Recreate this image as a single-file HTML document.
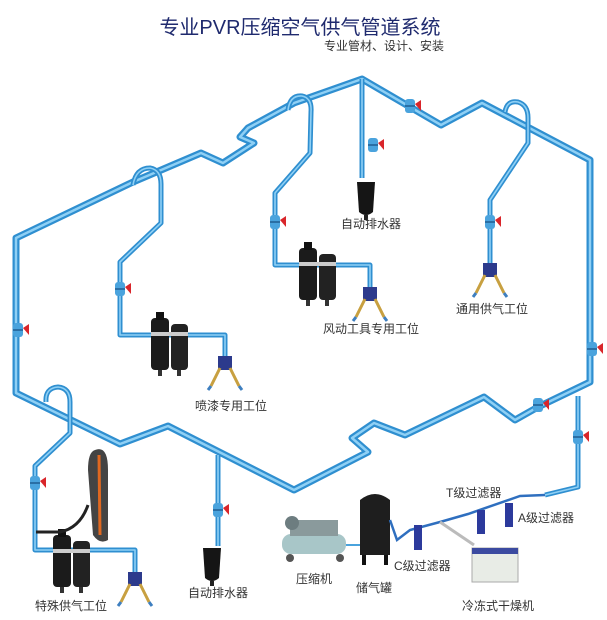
<!DOCTYPE html>
<html><head><meta charset="utf-8"><style>
html,body{margin:0;padding:0;background:#fff;}
svg{display:block;}
text{font-family:"Liberation Sans","Noto Sans CJK SC",sans-serif;fill:#333;font-size:12px;}
.p1{fill:none;stroke:#2f8fd0;stroke-width:7;stroke-linejoin:round;stroke-linecap:round;}
.p2{fill:none;stroke:#8fd0f5;stroke-width:2.5;stroke-linejoin:round;stroke-linecap:round;}
.s1{fill:none;stroke:#2f8fd0;stroke-width:5;stroke-linejoin:round;}
.s2{fill:none;stroke:#8fd0f5;stroke-width:1.6;stroke-linejoin:round;}
</style></head><body>
<svg width="607" height="620" viewBox="0 0 607 620" xmlns="http://www.w3.org/2000/svg">
<defs>
<g id="valve"><rect x="-5" y="-7" width="10" height="14" rx="3" fill="#4aa3dd"/><rect x="-5" y="-1" width="10" height="2" fill="#2a6fa5"/><path d="M5 -2 L11 -6 L11 5 Z" fill="#d9252a"/></g>
<g id="frl"><rect x="-19" y="0" width="18" height="52" rx="4" fill="#1b1b1b"/><rect x="1" y="6" width="17" height="46" rx="4" fill="#222"/><rect x="-19" y="14" width="37" height="4" fill="#ccc"/><rect x="-14" y="-6" width="8" height="8" fill="#111"/><rect x="-12" y="52" width="4" height="6" fill="#333"/><rect x="7" y="52" width="4" height="6" fill="#333"/></g>
<g id="stn"><rect x="-7" y="0" width="14" height="14" fill="#2c3a8c"/><path d="M-5 12 L-14 30 M5 12 L14 30" stroke="#c8a040" stroke-width="3"/><path d="M-14 30 L-17 34 M14 30 L17 34" stroke="#3e7fc0" stroke-width="3"/></g>
<g id="drain"><path d="M-9 0 L9 0 L7 30 Q0 36 -7 30 Z" fill="#151515"/><rect x="-2" y="33" width="4" height="5" fill="#222"/></g>
<path id="main" fill="none" d="M16 238 L133 182 L201 153 L223 163 L254 143 L240 137 L248 128 L294 103 L362 79 L441 125 L482 103 L590 160 L590 382 L538 407 L515 420 L484 397 L405 435 L374 423 L352 438 L368 452 L294 490 L168 426 L120 444 L16 393 Z"/>
<path id="b1" fill="none" d="M362 79 L362 178"/>
<path id="b2" fill="none" d="M288 110 Q290 95 302 96 Q312 98 311 112 L310 153 L275 193 L275 265 L370 265 L370 290"/>
<path id="b3" fill="none" d="M133 185 Q136 168 150 168 Q161 170 161 184 L161 223 L120 262 L120 335 L225 335 L225 357"/>
<path id="b4" fill="none" d="M505 112 Q507 100 518 102 Q528 105 528 118 L528 143 L490 200 L490 265"/>
<path id="b5" fill="none" d="M46 402 Q45 388 58 387 Q70 388 70 402 L70 433 L35 466 L35 550 L135 550 L135 572"/>
<path id="b6" fill="none" d="M218 455 L218 546"/>
<path id="b7" fill="none" d="M578 396 L578 487 L545 495"/>
</defs>
<text x="300" y="34" text-anchor="middle" style="font-size:20px;fill:#1f2a6e">专业PVR压缩空气供气管道系统</text>
<text x="444" y="50" text-anchor="end" style="font-size:12px;fill:#333">专业管材、设计、安装</text>

<use href="#main" class="p1"/><use href="#main" class="p2"/>
<g class="s1"><use href="#b1"/><use href="#b2"/><use href="#b3"/><use href="#b4"/><use href="#b5"/><use href="#b6"/><use href="#b7"/></g>
<g class="s2"><use href="#b1"/><use href="#b2"/><use href="#b3"/><use href="#b4"/><use href="#b5"/><use href="#b6"/><use href="#b7"/></g>

<use href="#valve" x="373" y="145"/>
<use href="#valve" x="275" y="222"/>
<use href="#valve" x="120" y="289"/>
<use href="#valve" x="490" y="222"/>
<use href="#valve" x="18" y="330"/>
<use href="#valve" x="410" y="106"/>
<use href="#valve" x="592" y="349"/>
<use href="#valve" x="538" y="405"/>
<use href="#valve" x="578" y="437"/>
<use href="#valve" x="35" y="483"/>
<use href="#valve" x="218" y="510"/>

<use href="#drain" x="366" y="182"/>
<use href="#drain" x="212" y="548"/>
<use href="#frl" x="318" y="248"/>
<use href="#frl" x="170" y="318"/>
<use href="#frl" x="72" y="535"/>
<use href="#stn" x="370" y="287"/>
<use href="#stn" x="225" y="356"/>
<use href="#stn" x="490" y="263"/>
<use href="#stn" x="135" y="572"/>

<path d="M95 450 Q108 445 108 470 L108 540 Q100 545 93 535 L88 470 Q88 452 95 450 Z" fill="#444"/>
<path d="M99 455 L100 535" stroke="#e06820" stroke-width="3"/>
<path d="M36 532 L60 532 Q80 528 88 505" stroke="#222" stroke-width="3" fill="none"/>

<rect x="282" y="534" width="64" height="20" rx="9" fill="#a8c6c8"/>
<rect x="290" y="520" width="48" height="16" fill="#8a9a9c"/>
<circle cx="292" cy="523" r="7" fill="#6d7d80"/>
<circle cx="290" cy="558" r="4" fill="#555"/><circle cx="340" cy="558" r="4" fill="#555"/>
<path d="M346 545 L362 545" stroke="#4aa3dd" stroke-width="2"/>
<path d="M360 500 Q375 488 390 500 L390 555 L360 555 Z" fill="#1e1e1e"/>
<rect x="362" y="555" width="4" height="10" fill="#111"/><rect x="384" y="555" width="4" height="10" fill="#111"/>
<path d="M390 520 L397 540 L410 530 L440 522 L468 514 L520 496 L545 495" stroke="#2f6fbf" stroke-width="2.5" fill="none"/>
<path d="M440 522 L474 545" stroke="#bbb" stroke-width="3"/>
<rect x="414" y="525" width="8" height="25" fill="#2c3a9c"/>
<rect x="477" y="510" width="8" height="24" fill="#2c3a9c"/>
<rect x="505" y="503" width="8" height="24" fill="#2c3a9c"/>
<rect x="472" y="548" width="46" height="34" fill="#e8ece6" stroke="#aaa"/>
<rect x="472" y="548" width="46" height="6" fill="#3b4aa0"/>

<text x="341" y="228">自动排水器</text>
<text x="323" y="333">风动工具专用工位</text>
<text x="195" y="410">喷漆专用工位</text>
<text x="456" y="313">通用供气工位</text>
<text x="35" y="610">特殊供气工位</text>
<text x="188" y="597">自动排水器</text>
<text x="296" y="583">压缩机</text>
<text x="356" y="592">储气罐</text>
<text x="394" y="570">C级过滤器</text>
<text x="446" y="497">T级过滤器</text>
<text x="518" y="522">A级过滤器</text>
<text x="462" y="610">冷冻式干燥机</text>
</svg>
</body></html>
